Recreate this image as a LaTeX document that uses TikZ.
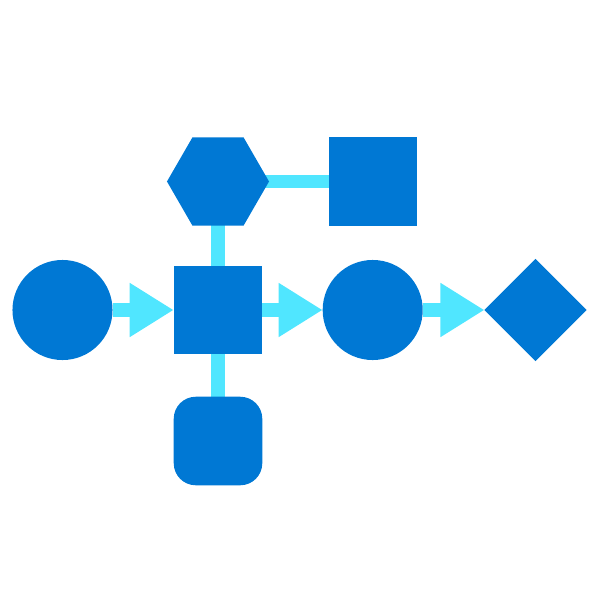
\documentclass[tikz,border=0pt]{standalone}
\usetikzlibrary{shapes.geometric,arrows.meta,backgrounds}
\definecolor{azblue}{HTML}{0078D4}
\definecolor{azcyan}{HTML}{50E6FF}
\begin{document}
\begin{tikzpicture}[x=0.01cm, y=-0.01cm,
  shapebox/.style={fill=azblue, draw=none, inner sep=0pt, outer sep=0pt},
  roundnode/.style={shapebox, circle, minimum size=1cm},
  squarenode/.style={shapebox, rectangle, minimum width=0.885cm, minimum height=0.885cm},
  link/.style={draw=azcyan, line width=0.13cm},
  flow/.style={draw=azcyan, fill=azcyan, line width=0.14cm, -{Triangle[length=0.44cm, width=0.51cm]}}]

\useasboundingbox (0,0) rectangle (600,600);

\node[roundnode] (start) at (62.5,310) {};
\node[squarenode] (action) at (218,310) {};
\node[shapebox, regular polygon, regular polygon sides=6, minimum size=1.02cm] (hexa) at (218,181.5) {};
\node[squarenode] (target) at (373,181.5) {};
\node[squarenode, rounded corners=0.22cm] (rounded) at (218,441) {};
\node[roundnode] (step) at (372.7,310) {};
\node[shapebox, diamond, minimum width=1.02cm, minimum height=1.02cm] (finish) at (535.5,310) {};

\begin{scope}[on background layer]
\draw[link] (hexa.center) -- (action.center);
\draw[link] (hexa.center) -- (target.center);
\draw[link] (action.center) -- (rounded.center);
\end{scope}

\draw[flow] (start.east) -- (action.west);
\draw[flow] (action.east) -- (step.west);
\draw[flow] (step.east) -- (finish.west);

\end{tikzpicture}
\end{document}
